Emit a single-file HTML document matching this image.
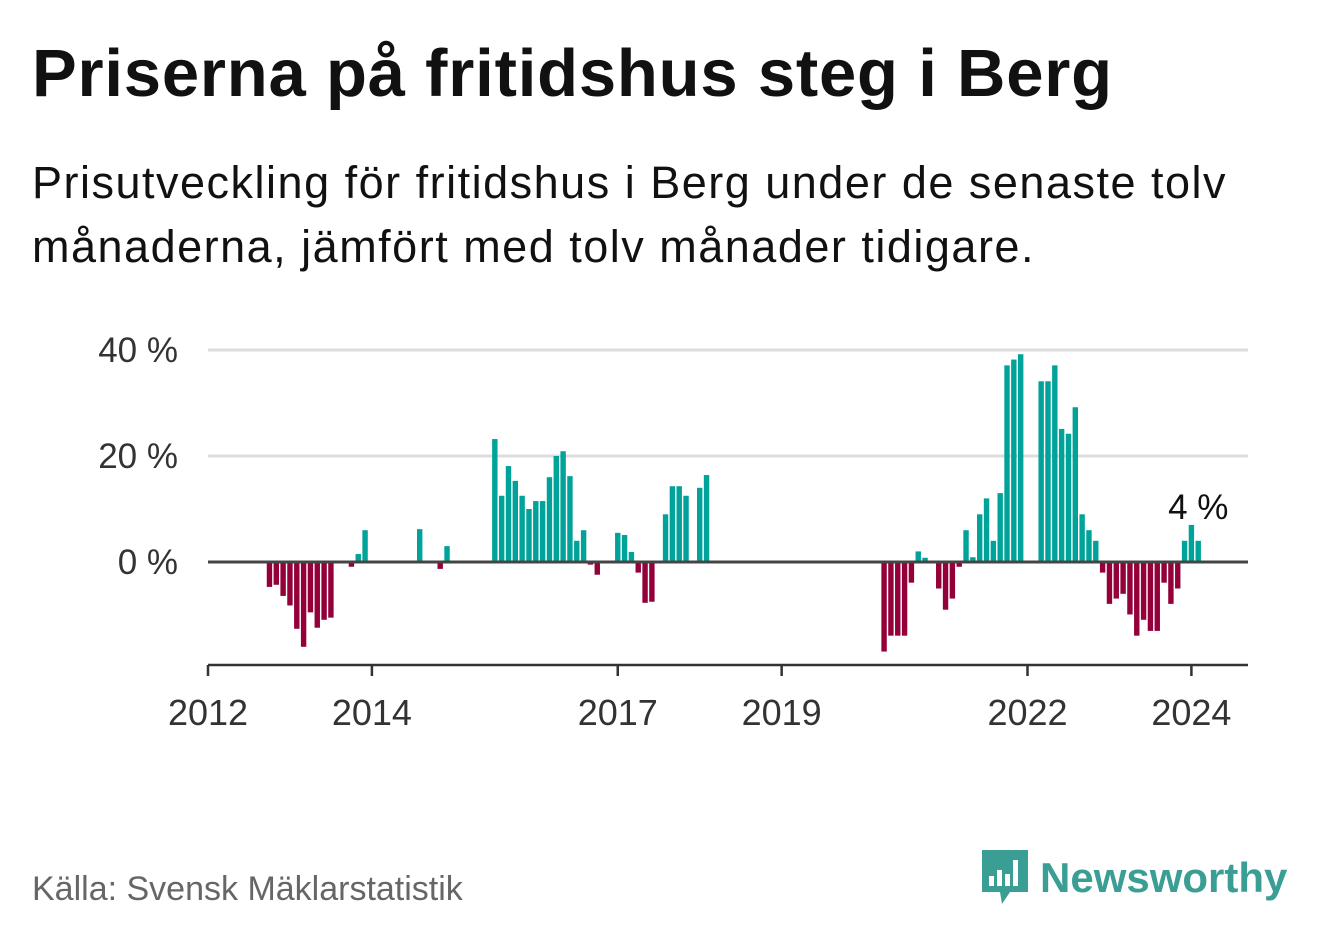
<!DOCTYPE html>
<html><head><meta charset="utf-8"><style>
body{margin:0;background:#fff;width:1322px;height:939px;overflow:hidden;font-family:"Liberation Sans",sans-serif}
#title{position:absolute;left:32px;top:35px;font-size:67px;font-weight:bold;color:#111;margin:0;letter-spacing:0.8px}
#sub{position:absolute;left:32px;top:151px;font-size:45px;line-height:64px;color:#111;width:1250px;letter-spacing:1.5px}
#src{position:absolute;left:32px;top:870px;font-size:34px;color:#666}
#logo{position:absolute;left:980px;top:848px;display:flex;align-items:center}
#logo span{font-size:42px;font-weight:bold;color:#3a9e94;margin-left:10px}
</style></head><body>
<h1 id="title">Priserna på fritidshus steg i Berg</h1>
<div id="sub">Prisutveckling för fritidshus i Berg under de senaste tolv månaderna, jämfört med tolv månader tidigare.</div>
<svg id="chart" width="1322" height="939" style="position:absolute;left:0;top:0"></svg>
<div id="src">Källa: Svensk Mäklarstatistik</div>
<div id="logo">
<svg width="50" height="60" viewBox="0 0 50 60"><path d="M2 2h46v42H30l-8 12-2-12H2z" fill="#3a9e94"/><rect x="9" y="28" width="5" height="10" fill="#fff"/><rect x="17" y="22" width="5" height="16" fill="#fff"/><rect x="25" y="26" width="5" height="12" fill="#fff"/><rect x="33" y="12" width="5" height="26" fill="#fff"/></svg>
<span>Newsworthy</span></div>
<script>
const dates=["2012-10","2012-11","2012-12","2013-01","2013-02","2013-03","2013-04","2013-05","2013-06","2013-07","2013-10","2013-11","2013-12","2014-08","2014-11","2014-12",
"2015-07","2015-08","2015-09","2015-10","2015-11","2015-12","2016-01","2016-02","2016-03","2016-04","2016-05","2016-06","2016-07","2016-08","2016-09","2016-10",
"2017-01","2017-02","2017-03","2017-04","2017-05","2017-06","2017-08","2017-09","2017-10","2017-11","2018-01","2018-02",
"2020-04","2020-05","2020-06","2020-07","2020-08","2020-09","2020-10","2020-12","2021-01","2021-02","2021-03","2021-04","2021-05","2021-06","2021-07","2021-08","2021-09","2021-10","2021-11","2021-12",
"2022-03","2022-04","2022-05","2022-06","2022-07","2022-08","2022-09","2022-10","2022-11","2022-12","2023-01","2023-02","2023-03","2023-04","2023-05","2023-06","2023-07","2023-08","2023-09","2023-10","2023-11","2023-12","2024-01","2024-02"];
const values=[-4.7,-4.3,-6.4,-8.2,-12.6,-16.0,-9.5,-12.4,-10.9,-10.5,-0.9,1.5,6.0,6.2,-1.3,3.0,
23.2,12.5,18.1,15.3,12.5,10.0,11.5,11.5,16.0,20.0,20.9,16.2,4.0,6.0,-0.5,-2.4,
5.5,5.1,1.9,-2.0,-7.7,-7.5,9.0,14.3,14.3,12.5,14.0,16.4,
-16.9,-13.9,-13.9,-13.9,-3.9,2.0,0.8,-5.0,-9.0,-6.9,-0.9,6.0,0.9,9.0,12.0,4.0,13.0,37.1,38.2,39.2,
34.1,34.1,37.1,25.1,24.2,29.2,9.0,6.0,4.0,-2.0,-7.9,-6.9,-6.0,-9.9,-13.9,-10.9,-13.0,-13.0,-3.9,-7.9,-5.0,4.0,7.0,4.0];
const yTicks=[0,20,40];
const yTickLabels=["0 %","20 %","40 %"];
const xTicks=[2012,2014,2017,2019,2022,2024];
const NS="http://www.w3.org/2000/svg",svg=document.getElementById('chart');
const x0=208,x1=1248,pxYear=81.95;
function xs(d){const [y,m]=d.split('-').map(Number);return x0+(y-2012+(m-1)/12)*pxYear;}
function xy(y){return x0+(y-2012)*pxYear;}
function ys(v){return 562-v*5.3;}
function mk(t,a,txt){const e=document.createElementNS(NS,t);for(const k in a)e.setAttribute(k,a[k]);if(txt!=null)e.textContent=txt;svg.appendChild(e);return e;}
yTicks.forEach((t,i)=>{
 if(t!==0){const g=mk('line',{x1:x0,x2:x1,y1:ys(t),y2:ys(t),stroke:'#ddd','stroke-width':3});
 
 }
 const l=mk('text',{x:178,y:ys(t)+12,'text-anchor':'end','font-size':35,fill:'#333','font-family':'Liberation Sans, sans-serif'},yTickLabels[i]);
 
 
});
const bw=5.4;
dates.forEach((d,i)=>{
 const v=values[i],cx=xs(d),y=ys(Math.max(v,0)),h=Math.abs(ys(v)-ys(0));
 const r=mk('rect',{x:cx-bw/2,y:y,width:bw,height:h,fill:v>=0?'#00a399':'#93003a'});
 
 
});
const z=mk('line',{x1:x0,x2:x1,y1:ys(0),y2:ys(0),stroke:'#444','stroke-width':3});


const ax=mk('line',{x1:x0,x2:x1,y1:665,y2:665,stroke:'#333','stroke-width':2.5});


xTicks.forEach(t=>{
 const tk=mk('line',{x1:xy(t),x2:xy(t),y1:665,y2:676,stroke:'#333','stroke-width':2.5});
 
 
 const l=mk('text',{x:xy(t),y:725,'text-anchor':'middle','font-size':36,fill:'#333','font-family':'Liberation Sans, sans-serif'},String(t));
 
 
});
const last=dates.length-1;
const lab=mk('text',{x:xs(dates[last]),y:519,'text-anchor':'middle','font-size':35,fill:'#111','font-family':'Liberation Sans, sans-serif'},Math.round(values[last])+' %');


</script>
</body></html>
